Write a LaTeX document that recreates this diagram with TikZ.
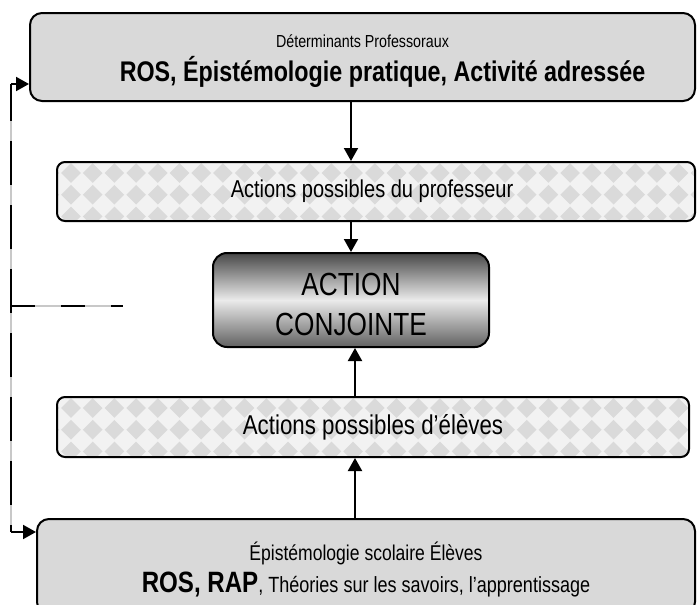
\documentclass[tikz,border=0pt]{standalone}
\usepackage{fontspec}
\setmainfont{Liberation Sans}[FakeStretch=0.82]
\usetikzlibrary{arrows.meta,positioning,calc}
\definecolor{ink}{HTML}{000000}
\definecolor{boxgray}{HTML}{D9D9D9}
\definecolor{chkbg}{HTML}{F2F2F2}
\definecolor{chkfg}{HTML}{DADADA}
\definecolor{gapgray}{HTML}{C8C8C8}
\tikzset{
  box/.style={draw=ink,line width=1pt,rounded corners=6pt,fill=boxgray,inner sep=2pt,align=center},
  chkbox/.style={draw=ink,line width=1pt,rounded corners=4pt,fill=chkbg,inner sep=2pt,
    path picture={
      \foreach \i in {-1,...,30} \foreach \j in {0,...,2}
        \fill[chkfg,sharp corners] ($(path picture bounding box.north west)+(\i*21.7+14,\j*21.7+11)$)
          +(-9.8,0) -- +(0,-9.8) -- +(9.8,0) -- +(0,9.8) -- cycle;
      }},
  actbox/.style={draw=ink,line width=1pt,rounded corners=7pt,top color=black!72,bottom color=black!62,
    middle color=black!8,align=center,font=\fontsize{16}{20}\selectfont},
  ar/.style={-{Triangle[length=6.5pt,width=7pt]},draw=ink,line width=1pt},
  fb/.style={draw=ink,line width=1pt,dash pattern=on 22pt off 10pt,dash phase=3.5pt,
    preaction={draw=gapgray,line width=0.7pt,solid}},
}
\begin{document}
\begin{tikzpicture}[x=0.5pt,y=-0.5pt]
  \useasboundingbox (0,0) rectangle (697,605);
  \clip (0,0) rectangle (697,605);
  \node[box,minimum width=332.5pt,minimum height=44pt,font=\fontsize{14.2}{17}\selectfont] (prof) at (362.5,57)
    {{\fontsize{8.7}{10}\selectfont\rule{0pt}{10.3pt}Déterminants Professoraux}\\
     {\bfseries\hspace*{20pt}ROS, Épistémologie pratique, Activité adressée}};
  \node[chkbox,minimum width=319pt,minimum height=29.5pt,font=\fontsize{12.2}{15}\selectfont] (actprof) at (376,191.5)
    {Actions possibles du professeur\hspace*{4pt}};
  \node[actbox,minimum width=138pt,minimum height=47pt] (action) at (351,300)
    {\rule{0pt}{15.5pt}ACTION\\CONJOINTE};
  \node[chkbox,minimum width=316pt,minimum height=30pt,font=\fontsize{13.6}{16}\selectfont] (actel) at (373,427)
    {Actions possibles d’élèves};
  \node[box,minimum width=329pt,minimum height=47.5pt,font=\fontsize{14.7}{16}\selectfont] (eleves) at (366,566.5)
    {{\fontsize{10.7}{12}\selectfont\rule{0pt}{12.5pt}Épistémologie scolaire Élèves}\\
     {\bfseries ROS, RAP}{\fontsize{11}{13}\selectfont, Théories sur les savoirs, l’apprentissage}};

  % arrows between the levels
  \coordinate (up) at (355,0);
  \draw[ar] (prof.south -| action.north) -- (actprof.north -| action.north);
  \draw[ar] (actprof.south -| action.north) -- (action.north);
  \draw[ar] (actel.north -| up) -- (action.south -| up);
  \draw[ar] (eleves.north -| up) -- (actel.south -| up);

  % feedback on the left
  \coordinate (fbt) at (11,84);
  \coordinate (fbb) at (11,532);
  \coordinate (fbm) at (11,306);
  \coordinate (fbe) at (123,306);
  \draw[fb] (fbt) -- (fbb);
  \draw[fb,dash pattern=on 12pt off 13pt,dash phase=0pt] (fbm) -- (fbe);
  \draw[ar] (fbt) -- (fbt -| prof.west);
  \draw[ar] (fbb) -- (fbb -| eleves.west);
\end{tikzpicture}
\end{document}
